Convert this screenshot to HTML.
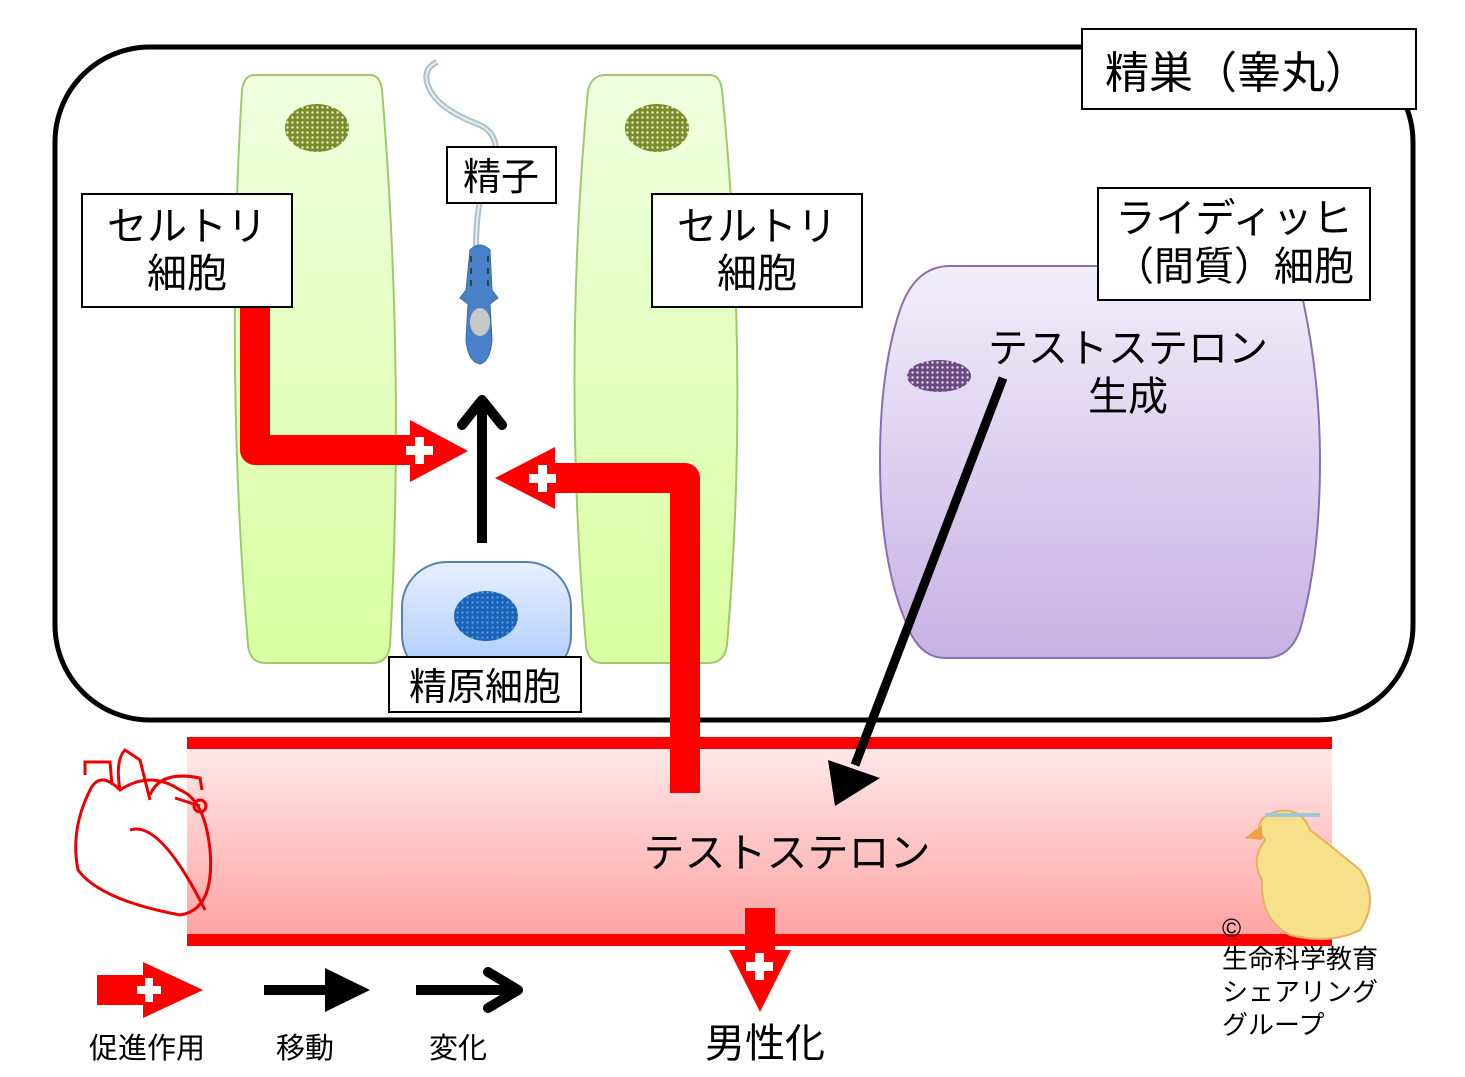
<!DOCTYPE html>
<html><head><meta charset="utf-8"><style>
html,body{margin:0;padding:0;background:#fff}
svg{display:block}
text{font-family:"Liberation Sans","Noto Sans CJK JP",sans-serif;fill:#000}
</style></head><body>
<svg width="1465" height="1077" viewBox="0 0 1465 1077" xmlns="http://www.w3.org/2000/svg">
<defs>
<linearGradient id="g" x1="0" y1="0" x2="0" y2="1"><stop offset="0" stop-color="#f0ffe0"/><stop offset="1" stop-color="#d8ffa0"/></linearGradient>
<linearGradient id="p" x1="0" y1="0" x2="0" y2="1"><stop offset="0" stop-color="#f2eefa"/><stop offset="1" stop-color="#c6b2e4"/></linearGradient>
<linearGradient id="b" x1="0" y1="0" x2="0" y2="1"><stop offset="0" stop-color="#e8f0ff"/><stop offset="1" stop-color="#a8c8ff"/></linearGradient>
<linearGradient id="r" x1="0" y1="0" x2="0" y2="1"><stop offset="0" stop-color="#ffe8e8"/><stop offset="1" stop-color="#ffa4a4"/></linearGradient>
<pattern id="dg" width="5" height="5" patternUnits="userSpaceOnUse"><rect width="5" height="5" fill="#7c8c2c"/><circle cx="2.5" cy="2.5" r="1.2" fill="#e8f0c0"/></pattern>
<pattern id="dp" width="5" height="5" patternUnits="userSpaceOnUse"><rect width="5" height="5" fill="#6a4a80"/><circle cx="2.5" cy="2.5" r="1.2" fill="#e8dcf0"/></pattern>
<pattern id="db" width="5" height="5" patternUnits="userSpaceOnUse"><rect width="5" height="5" fill="#1a64b8"/><circle cx="2.5" cy="2.5" r="1.1" fill="#5aa0e8"/></pattern>
</defs>

<rect x="55" y="47" width="1358" height="673" rx="95" fill="#fff" stroke="#000" stroke-width="5"/>

<!-- green cells -->
<path d="M255 75 L370 75 Q380 75 382 90 Q405 370 390 645 Q388 663 372 663 L265 663 Q250 663 248 645 Q225 370 242 90 Q244 75 255 75Z" fill="url(#g)" stroke="#a0c870" stroke-width="2"/>
<path d="M605 75 L710 75 Q720 75 722 90 Q750 370 727 645 Q725 663 708 663 L602 663 Q588 663 586 645 Q562 370 588 90 Q592 75 605 75Z" fill="url(#g)" stroke="#a0c870" stroke-width="2"/>
<ellipse cx="317" cy="128" rx="32" ry="24" fill="url(#dg)"/>
<ellipse cx="657" cy="128" rx="32" ry="24" fill="url(#dg)"/>

<!-- spermatogonium -->
<rect x="402" y="562" width="169" height="118" rx="45" fill="url(#b)" stroke="#5a80b0" stroke-width="2"/>
<ellipse cx="486" cy="616" rx="32" ry="25" fill="url(#db)"/>

<!-- Leydig -->
<path d="M950 266 L1270 266 Q1295 266 1303 300 Q1320 380 1320 460 Q1320 560 1300 630 Q1290 658 1265 658 L945 658 Q918 658 905 620 Q880 560 880 460 Q880 370 900 310 Q915 266 950 266Z" fill="url(#p)" stroke="#8a70b0" stroke-width="2"/>
<ellipse cx="939" cy="376" rx="32" ry="16" fill="url(#dp)"/>

<!-- sperm -->
<path d="M437 62 Q420 70 430 90 Q440 110 480 125 Q500 135 495 160 Q470 200 478 285" fill="none" stroke="#a8c0dc" stroke-width="6"/>
<path d="M437 62 Q420 70 430 90 Q440 110 480 125 Q500 135 495 160 Q470 200 478 285" fill="none" stroke="#eef0d8" stroke-width="2"/>
<path d="M470 250 Q480 240 490 250 L492 290 L498 298 L490 304 L492 340 Q490 362 480 364 Q468 362 466 340 L468 304 L460 298 L466 290Z" fill="#4a80c8" stroke="#3a6aa8"/>
<g fill="#1a5030"><rect x="470" y="256" width="2" height="6"/><rect x="470" y="268" width="2" height="6"/><rect x="470" y="280" width="2" height="6"/><rect x="487" y="256" width="2" height="6"/><rect x="487" y="268" width="2" height="6"/><rect x="487" y="280" width="2" height="6"/></g>
<ellipse cx="480" cy="322" rx="10" ry="14" fill="#c8c8c8"/>

<!-- vessel -->
<rect x="187" y="748" width="1145" height="186" fill="url(#r)"/>
<rect x="187" y="737" width="1145" height="12" fill="#f00"/>
<rect x="187" y="934" width="1145" height="12" fill="#f00"/>

<!-- heart -->
<g fill="none" stroke="#e00" stroke-width="3">
<path d="M90 790 Q70 830 78 870 Q100 900 180 915 Q215 910 210 850 Q205 800 180 790 Q150 770 120 790 Q100 770 90 790Z"/>
<path d="M120 790 Q115 760 125 750 L140 760 L150 800"/>
<path d="M150 795 Q160 770 200 778 L202 790"/>
<path d="M130 830 Q160 820 205 910"/>
<path d="M85 775 L85 762 L110 762 L112 785"/>
<path d="M175 798 L200 806"/>
<circle cx="200" cy="806" r="6"/>
</g>

<!-- duck -->
<g>
<path d="M1265 840 Q1250 820 1275 812 Q1300 805 1310 830 Q1330 845 1360 870 Q1380 900 1360 930 Q1330 945 1290 935 Q1260 920 1262 880 Q1250 860 1265 840Z" fill="#f6e08a" stroke="#e8b060" stroke-width="2"/>
<path d="M1262 825 L1245 838 L1262 840Z" fill="#f0a040"/>
<path d="M1265 815 L1320 815" stroke="#9cc8d8" stroke-width="4"/>
</g>

<!-- red arrows -->
<path d="M255 307 L255 450 L412 450" fill="none" stroke="#f00" stroke-width="30" stroke-linejoin="round"/>
<path d="M410 420 L468 451 L410 482Z" fill="#f00"/>
<path d="M685 793 L685 478 L553 478" fill="none" stroke="#f00" stroke-width="30" stroke-linejoin="round"/>
<path d="M555 447 L495 478 L555 509Z" fill="#f00"/>
<g fill="#fff">
<rect x="415" y="437" width="9" height="27"/><rect x="406" y="446" width="27" height="9"/>
<rect x="538" y="465" width="9" height="27"/><rect x="529" y="474" width="27" height="9"/>
</g>

<!-- black arrows -->
<path d="M482 543 L482 398" stroke="#000" stroke-width="10"/>
<path d="M462 425 L482 400 L502 425" fill="none" stroke="#000" stroke-width="10" stroke-linecap="round" stroke-linejoin="round"/>
<path d="M1003 378 L855 765" stroke="#000" stroke-width="9"/>
<path d="M828 760 L880 778 L835 806Z" fill="#000"/>

<!-- down red arrow -->
<rect x="745" y="908" width="30" height="45" fill="#f00"/>
<path d="M729 950 L760 1012 L791 950Z" fill="#f00"/>
<rect x="755" y="953" width="9" height="27" fill="#fff"/><rect x="746" y="962" width="27" height="9" fill="#fff"/>

<!-- label boxes -->
<g fill="#fff" stroke="#000" stroke-width="2">
<rect x="1082" y="29" width="334" height="80"/>
<rect x="82" y="194" width="210" height="113"/>
<rect x="652" y="194" width="210" height="113"/>
<rect x="447" y="147" width="109" height="56"/>
<rect x="389" y="657" width="192" height="55"/>
<rect x="1098" y="188" width="272" height="112"/>
</g>
<text x="1105" y="88" font-size="44">精巣（睾丸）</text>
<text x="187" y="240" font-size="40" text-anchor="middle">セルトリ</text>
<text x="187" y="287" font-size="40" text-anchor="middle">細胞</text>
<text x="757" y="240" font-size="40" text-anchor="middle">セルトリ</text>
<text x="757" y="287" font-size="40" text-anchor="middle">細胞</text>
<text x="501" y="190" font-size="38" text-anchor="middle">精子</text>
<text x="485" y="700" font-size="38" text-anchor="middle">精原細胞</text>
<text x="1234" y="232" font-size="40" text-anchor="middle">ライディッヒ</text>
<text x="1234" y="280" font-size="40" text-anchor="middle">（間質）細胞</text>
<text x="1128" y="362" font-size="40" text-anchor="middle">テストステロン</text>
<text x="1128" y="410" font-size="40" text-anchor="middle">生成</text>
<text x="787" y="867" font-size="41" text-anchor="middle">テストステロン</text>
<text x="765" y="1057" font-size="40" text-anchor="middle">男性化</text>

<!-- legend -->
<rect x="97" y="975" width="55" height="30" fill="#f00"/>
<path d="M143 962 L203 990 L143 1018Z" fill="#f00"/>
<rect x="145" y="978" width="8" height="24" fill="#fff"/><rect x="137" y="986" width="24" height="8" fill="#fff"/>
<rect x="264" y="985" width="65" height="10" fill="#000"/>
<path d="M325 968 L370 990 L325 1012Z" fill="#000"/>
<path d="M416 990 L515 990" stroke="#000" stroke-width="10"/>
<path d="M488 972 L518 990 L488 1008" fill="none" stroke="#000" stroke-width="10" stroke-linecap="round" stroke-linejoin="round"/>
<text x="147" y="1058" font-size="29" text-anchor="middle">促進作用</text>
<text x="305" y="1058" font-size="29" text-anchor="middle">移動</text>
<text x="458" y="1058" font-size="29" text-anchor="middle">変化</text>

<text x="1222" y="937" font-size="26">©</text>
<text x="1222" y="968" font-size="26">生命科学教育</text>
<text x="1222" y="1001" font-size="26">シェアリング</text>
<text x="1222" y="1034" font-size="26">グループ</text>
</svg>
</body></html>
